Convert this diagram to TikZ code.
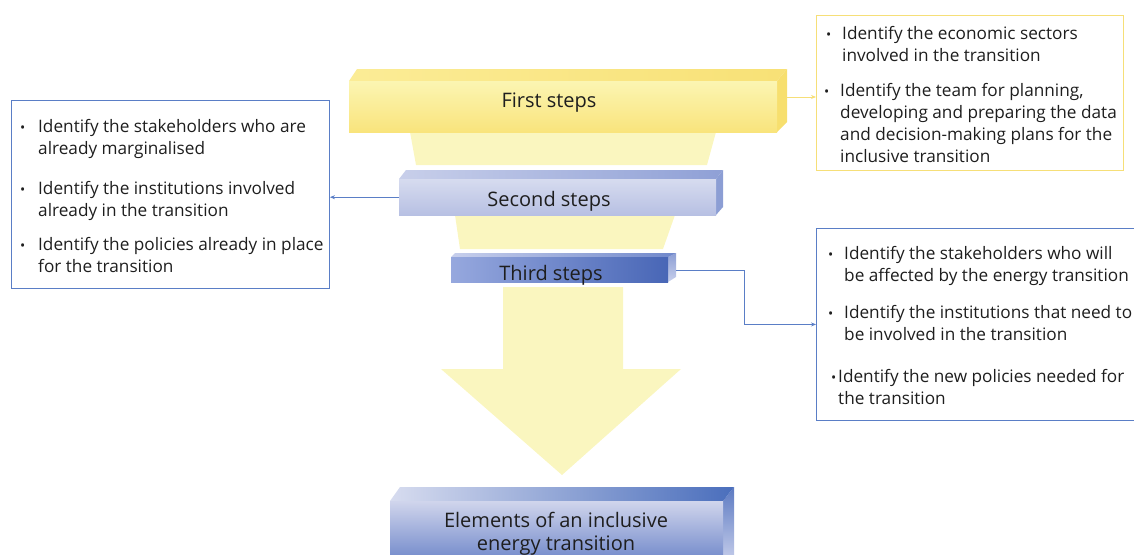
\documentclass[tikz,border=0pt]{standalone}
\usepackage{fontspec}
\setmainfont{Open Sans}
\usetikzlibrary{arrows.meta}

\definecolor{pale}{HTML}{FAF6BF}
\definecolor{ylwline}{HTML}{F6DF78}
\definecolor{bluline}{HTML}{5A7EC6}
\definecolor{ink}{HTML}{1E1E1E}
% bar colours
\definecolor{fsHi}{RGB}{251,245,178}
\definecolor{fsLo}{RGB}{249,228,124}
\definecolor{fsTopL}{RGB}{251,236,150}
\definecolor{fsTopR}{RGB}{248,225,118}
\definecolor{fsSide}{RGB}{247,223,110}
\definecolor{ssHi}{RGB}{214,219,239}
\definecolor{ssLo}{RGB}{183,192,227}
\definecolor{ssTopL}{RGB}{200,207,234}
\definecolor{ssTopR}{RGB}{143,160,214}
\definecolor{ssSide}{RGB}{140,158,212}
\definecolor{tsL}{RGB}{150,168,222}
\definecolor{tsR}{RGB}{72,102,182}
\definecolor{tsTopL}{RGB}{199,207,236}
\definecolor{tsTopR}{RGB}{112,136,203}
\definecolor{tsSideHi}{RGB}{140,158,212}
\definecolor{tsSideLo}{RGB}{200,208,236}
\definecolor{elHi}{RGB}{208,213,236}
\definecolor{elLo}{RGB}{112,136,202}
\definecolor{elTopL}{RGB}{215,220,239}
\definecolor{elTopR}{RGB}{74,110,188}
\definecolor{elSideHi}{RGB}{92,122,194}
\definecolor{elSideLo}{RGB}{196,204,234}

\newcommand{\bul}[1]{\llap{\scalebox{0.8}{\textbullet}\hspace{#1pt}}}

\tikzset{
  infobox/.style={draw, line width=0.9pt, inner sep=0pt, anchor=north west},
  itemtext/.style={anchor=north west, inner sep=0pt, align=left, text=ink,
    font=\fontsize{17.2}{22}\selectfont},
  steplabel/.style={inner sep=0pt, align=center, text=ink,
    font=\fontsize{20}{23}\selectfont},
  face/.style={inner sep=0pt, anchor=north west},
  link/.style={line width=0.8pt, -{Stealth[length=5pt,width=4pt]}}
}

\begin{document}
\begin{tikzpicture}[x=1pt,y=-1pt]
\useasboundingbox (0,0) rectangle (1134,554);
\clip (0,0) rectangle (1134,554);

% funnel and arrow
\fill[pale] (410,132) -- (716,132) -- (707,165) -- (416,165) -- cycle;
\fill[pale] (455,215) -- (675,215) -- (663,249) -- (460,249) -- cycle;
\fill[pale] (503,287) -- (623,287) -- (623,369) -- (681,369) -- (562,475)
  -- (441,369) -- (503,369) -- cycle;

% first steps
\fill[fsSide] (777,81) -- (787,69) -- (787,122) -- (777,132) -- cycle;
\shade[left color=fsTopL, right color=fsTopR] (349,81) -- (357,69) -- (787,69) -- (777,81) -- cycle;
\node[face, minimum width=428, minimum height=51, top color=fsHi, bottom color=fsLo] (fsface) at (349,81) {};

% second steps
\fill[ssSide] (716,179) -- (723,170) -- (723,207) -- (716,215) -- cycle;
\shade[left color=ssTopL, right color=ssTopR] (399,179) -- (406,170) -- (723,170) -- (716,179) -- cycle;
\node[face, minimum width=317, minimum height=36, top color=ssHi, bottom color=ssLo] (ssface) at (399,179) {};

% third steps
\shade[top color=tsSideHi, bottom color=tsSideLo] (668,257) -- (676,253) -- (676,277) -- (668,282) -- cycle;
\shade[left color=tsTopL, right color=tsTopR] (451,257) -- (455,253) -- (676,253) -- (668,257) -- cycle;
\node[face, minimum width=217, minimum height=25, left color=tsL, right color=tsR] (tsface) at (451,257) {};

% elements
\shade[top color=elSideHi, bottom color=elSideLo] (723,501) -- (734,487) -- (734,560) -- (723,560) -- cycle;
\shade[left color=elTopL, right color=elTopR] (390,501) -- (400,487) -- (734,487) -- (723,501) -- cycle;
\node[face, minimum width=333, minimum height=60, top color=elHi, bottom color=elLo] (elface) at (390,501) {};

% labels
\path
  (549,103) node[steplabel] (fs) {First steps}
  (549,201) node[steplabel] (ss) {Second steps}
  (551,275) node[steplabel] (ts) {Third steps}
  (556,534) node[steplabel] (el) {Elements of an inclusive\\energy transition};

% boxes
\node[infobox, draw=ylwline, minimum width=307, minimum height=155] (fsbox) at (816,15) {};
\node[infobox, draw=bluline, minimum width=318, minimum height=188] (ssbox) at (11,100) {};
\node[infobox, draw=bluline, minimum width=330, minimum height=192] (tsbox) at (816,228) {};

\path
  (842,26) node[itemtext] (fsa) {\bul{11}Identify the economic sectors\\involved in the transition}
  (840,83) node[itemtext] (fsb) {\bul{11}Identify the team for planning,\\developing and preparing the data\\and decision-making plans for the\\inclusive transition};
\path
  (38,119) node[itemtext] (ssa) {\bul{13}Identify the stakeholders who are\\already marginalised}
  (38,181) node[itemtext] (ssb) {\bul{13}Identify the institutions involved\\already in the transition}
  (38,237.5) node[itemtext] (ssc) {\bul{13}Identify the policies already in place\\for the transition};
\path
  (844,246) node[itemtext] (tsa) {\bul{11}Identify the stakeholders who will\\be affected by the energy transition}
  (844,305.5) node[itemtext] (tsb) {\bul{11}Identify the institutions that need to\\be involved in the transition}
  (838,369) node[itemtext] (tsc) {\bul{2}Identify the new policies needed for\\the transition};

% links
\coordinate (fsout) at (787,97);
\coordinate (tsout) at (676,270);
\draw[link, ylwline] (fsout) -- (fsout -| fsbox.west);
\draw[link, bluline] (ssface.west) -- (ssface.west -| ssbox.east);
\draw[link, bluline] (tsout) -- ++(68,0) |- (tsbox.west);
\end{tikzpicture}
\end{document}
